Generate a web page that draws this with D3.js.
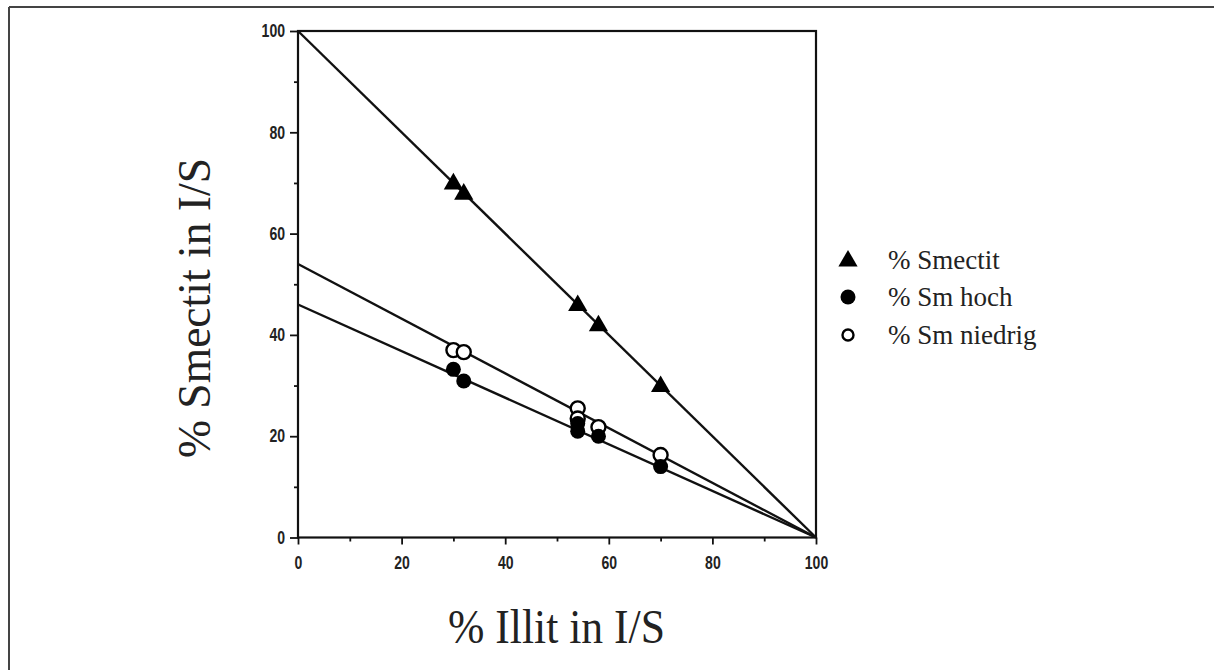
<!DOCTYPE html>
<html>
<head>
<meta charset="utf-8">
<script src="https://cdn.jsdelivr.net/npm/d3@7"></script>
<style>
  body { margin: 0; background: #fff; }
  svg { display: block; }
</style>
</head>
<body>
<script>
// data
var smectitX = [30, 32, 54, 58, 70];
var smectitY = [70, 68, 46, 42, 30];
var hochX = [30, 32, 54, 54, 58, 70];
var hochY = [33.2, 30.9, 21, 22.5, 20, 14];
var niedrigX = [30, 32, 54, 54, 58, 70];
var niedrigY = [37, 36.6, 25.5, 23.5, 21.8, 16.3];
// fitted lines: value at x=0 and at x=100
var lineStart = [100, 46, 54];
var lineEnd = [0, 0, 0];
var majorTicks = [0, 20, 40, 60, 80, 100];
var minorTicks = [10, 30, 50, 70, 90];
var legendLabels = ['% Smectit', '% Sm hoch', '% Sm niedrig'];

var W = 1214, H = 670;
var svg = d3.select('body').append('svg')
    .attr('width', W)
    .attr('height', H);

// frame (top and left only, as in the scan)
svg.append('line').attr('x1', 9).attr('y1', 7).attr('x2', W).attr('y2', 7)
    .attr('stroke', '#444').attr('stroke-width', 2);
svg.append('line').attr('x1', 9).attr('y1', 7).attr('x2', 9).attr('y2', H)
    .attr('stroke', '#444').attr('stroke-width', 2);

var x = d3.scaleLinear().domain([0, 100]).range([298, 816]);
var y = d3.scaleLinear().domain([0, 100]).range([537.5, 31]);

var tickFont = "'Liberation Sans', Arial, sans-serif";
var squeeze = 0.78; // labels in the scan are narrow

// box
svg.append('rect')
    .attr('x', x(0)).attr('y', y(100))
    .attr('width', x(100) - x(0)).attr('height', y(0) - y(100))
    .attr('fill', 'none').attr('stroke', '#111').attr('stroke-width', 2.2);

// x axis
var xMajor = svg.append('g').attr('transform', 'translate(0,' + y(0) + ')')
    .call(d3.axisBottom(x).tickValues(majorTicks).tickSize(7).tickPadding(12).tickFormat(d3.format('d')));
var xMinor = svg.append('g').attr('transform', 'translate(0,' + y(0) + ')')
    .call(d3.axisBottom(x).tickValues(minorTicks).tickSize(4).tickFormat(''));
// y axis
var yMajor = svg.append('g').attr('transform', 'translate(' + x(0) + ',0)')
    .call(d3.axisLeft(y).tickValues(majorTicks).tickSize(8).tickPadding(10).tickFormat(d3.format('d')));
var yMinor = svg.append('g').attr('transform', 'translate(' + x(0) + ',0)')
    .call(d3.axisLeft(y).tickValues(minorTicks).tickSize(4).tickFormat(''));

[xMajor, xMinor, yMajor, yMinor].forEach(function (g) {
    g.select('.domain').remove();
    g.selectAll('.tick line').attr('stroke', '#111').attr('stroke-width', 1.8);
    g.selectAll('text')
        .attr('font-family', tickFont)
        .attr('font-size', 18)
        .attr('font-weight', 600)
        .attr('fill', '#222')
        .attr('transform', 'scale(' + squeeze + ',1)');
});
yMajor.selectAll('text').attr('x', -13 / squeeze);

// fitted lines
for (var i = 0; i < lineStart.length; i++) {
    svg.append('line')
        .attr('x1', x(0)).attr('y1', y(lineStart[i]))
        .attr('x2', x(100)).attr('y2', y(lineEnd[i]))
        .attr('stroke', '#111').attr('stroke-width', 2.4);
}

var tri = d3.symbol().type(d3.symbolTriangle).size(160);

// triangles
svg.selectAll('.smectit').data(smectitX).enter().append('path')
    .attr('class', 'smectit')
    .attr('d', tri)
    .attr('transform', function (d, i) { return 'translate(' + x(d) + ',' + (y(smectitY[i]) + 1) + ')'; })
    .attr('fill', '#000');

// open circles
svg.selectAll('.niedrig').data(niedrigX).enter().append('circle')
    .attr('class', 'niedrig')
    .attr('cx', function (d) { return x(d); })
    .attr('cy', function (d, i) { return y(niedrigY[i]); })
    .attr('r', 7)
    .attr('fill', '#fff').attr('stroke', '#000').attr('stroke-width', 2.4);

// filled circles
svg.selectAll('.hoch').data(hochX).enter().append('circle')
    .attr('class', 'hoch')
    .attr('cx', function (d) { return x(d); })
    .attr('cy', function (d, i) { return y(hochY[i]); })
    .attr('r', 7.5)
    .attr('fill', '#000');

// legend
var legY = [260, 297, 335];
var leg = svg.append('g');
leg.append('path').attr('d', tri).attr('transform', 'translate(848,' + (legY[0] + 1) + ')').attr('fill', '#000');
leg.append('circle').attr('cx', 848).attr('cy', legY[1]).attr('r', 7.5).attr('fill', '#000');
leg.append('circle').attr('cx', 848).attr('cy', legY[2]).attr('r', 5.5)
    .attr('fill', '#fff').attr('stroke', '#000').attr('stroke-width', 2.4);
leg.selectAll('text').data(legendLabels).enter().append('text')
    .attr('x', 888)
    .attr('y', function (d, i) { return legY[i] + 9; })
    .attr('font-family', "'Liberation Serif', 'Times New Roman', serif")
    .attr('font-size', 27)
    .attr('fill', '#222')
    .text(function (d) { return d; });

// axis titles
svg.append('text')
    .attr('x', 556.5).attr('y', 643)
    .attr('text-anchor', 'middle')
    .attr('font-family', "'Liberation Serif', 'Times New Roman', serif")
    .attr('font-size', 48)
    .attr('textLength', 217).attr('lengthAdjust', 'spacingAndGlyphs')
    .attr('fill', '#222')
    .text('% Illit in I/S');

svg.append('text')
    .attr('transform', 'translate(210,308) rotate(-90)')
    .attr('text-anchor', 'middle')
    .attr('font-family', "'Liberation Serif', 'Times New Roman', serif")
    .attr('font-size', 46)
    .attr('textLength', 300).attr('lengthAdjust', 'spacingAndGlyphs')
    .attr('fill', '#222')
    .text('% Smectit in I/S');
</script>
</body>
</html>
